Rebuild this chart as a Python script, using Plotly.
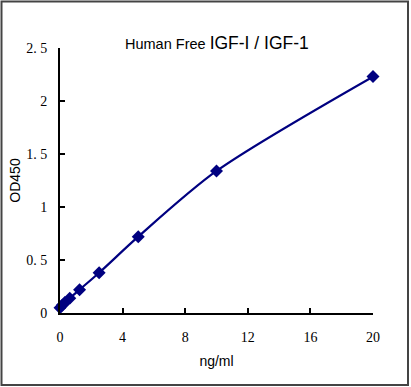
import plotly.graph_objects as go

conc = [0, 0.156, 0.3125, 0.625, 1.25, 2.5, 5, 10, 20]
od = [0.05, 0.075, 0.10, 0.14, 0.22, 0.38, 0.72, 1.34, 2.23]
y_ticks = [0, 0.5, 1, 1.5, 2, 2.5]
y_tick_text = ["0", "0. 5", "1", "1. 5", "2", "2. 5"]
x_ticks = [0, 4, 8, 12, 16, 20]

W, H = 411, 387
L, R, T, B = 60, 38, 48, 74
pw, ph = W - L - R, H - T - B

def px(x):
    return (x - L) / pw

def py(y):
    return (H - B - y) / ph

navy = "#000080"
fig = go.Figure()
fig.add_trace(go.Scatter(
    x=conc, y=od, mode="lines+markers",
    line=dict(color=navy, width=2.2, shape="spline", smoothing=0.8),
    marker=dict(symbol="diamond", size=10, color=navy),
    cliponaxis=False, showlegend=False,
))

serif = "SimSun, 'Liberation Serif', 'DejaVu Serif', serif"
sans = "'Liberation Sans', Arial, sans-serif"

fig.update_layout(
    width=W, height=H,
    margin=dict(l=L, r=R, t=T, b=B),
    paper_bgcolor="white", plot_bgcolor="white",
    xaxis=dict(
        range=[0, 20], tickvals=x_ticks, ticks="inside", ticklen=5,
        tickcolor="black", tickwidth=2, showline=True, linecolor="black", linewidth=2,
        showgrid=False, zeroline=False, ticklabelstandoff=10,
        tickfont=dict(family=serif, size=14, color="black"),
        title=dict(text="ng/ml", font=dict(family=sans, size=14, color="black"), standoff=12),
    ),
    yaxis=dict(
        range=[0, 2.5], tickvals=y_ticks, ticktext=y_tick_text, ticks="inside",
        ticklen=5, tickcolor="black", tickwidth=2, showline=True, linecolor="black", linewidth=2,
        showgrid=False, zeroline=False, ticklabelstandoff=8,
        tickfont=dict(family=serif, size=14, color="black"),
        title=dict(text="OD450", font=dict(family=sans, size=14, color="black"), standoff=2),
    ),
    shapes=[dict(
        type="rect", xref="paper", yref="paper",
        x0=px(1.5), x1=px(408), y0=py(385), y1=py(1.5),
        line=dict(color="#444444", width=2), layer="above",
    )],
    annotations=[dict(
        text="<span style='font-size:14.5px'>Human Free </span>IGF-I / IGF-1",
        xref="paper", yref="paper", x=px(217), y=py(43),
        showarrow=False, font=dict(family=sans, size=17.5, color="black"),
        xanchor="center", yanchor="middle",
    )],
)

fig.write_html("out.html")
